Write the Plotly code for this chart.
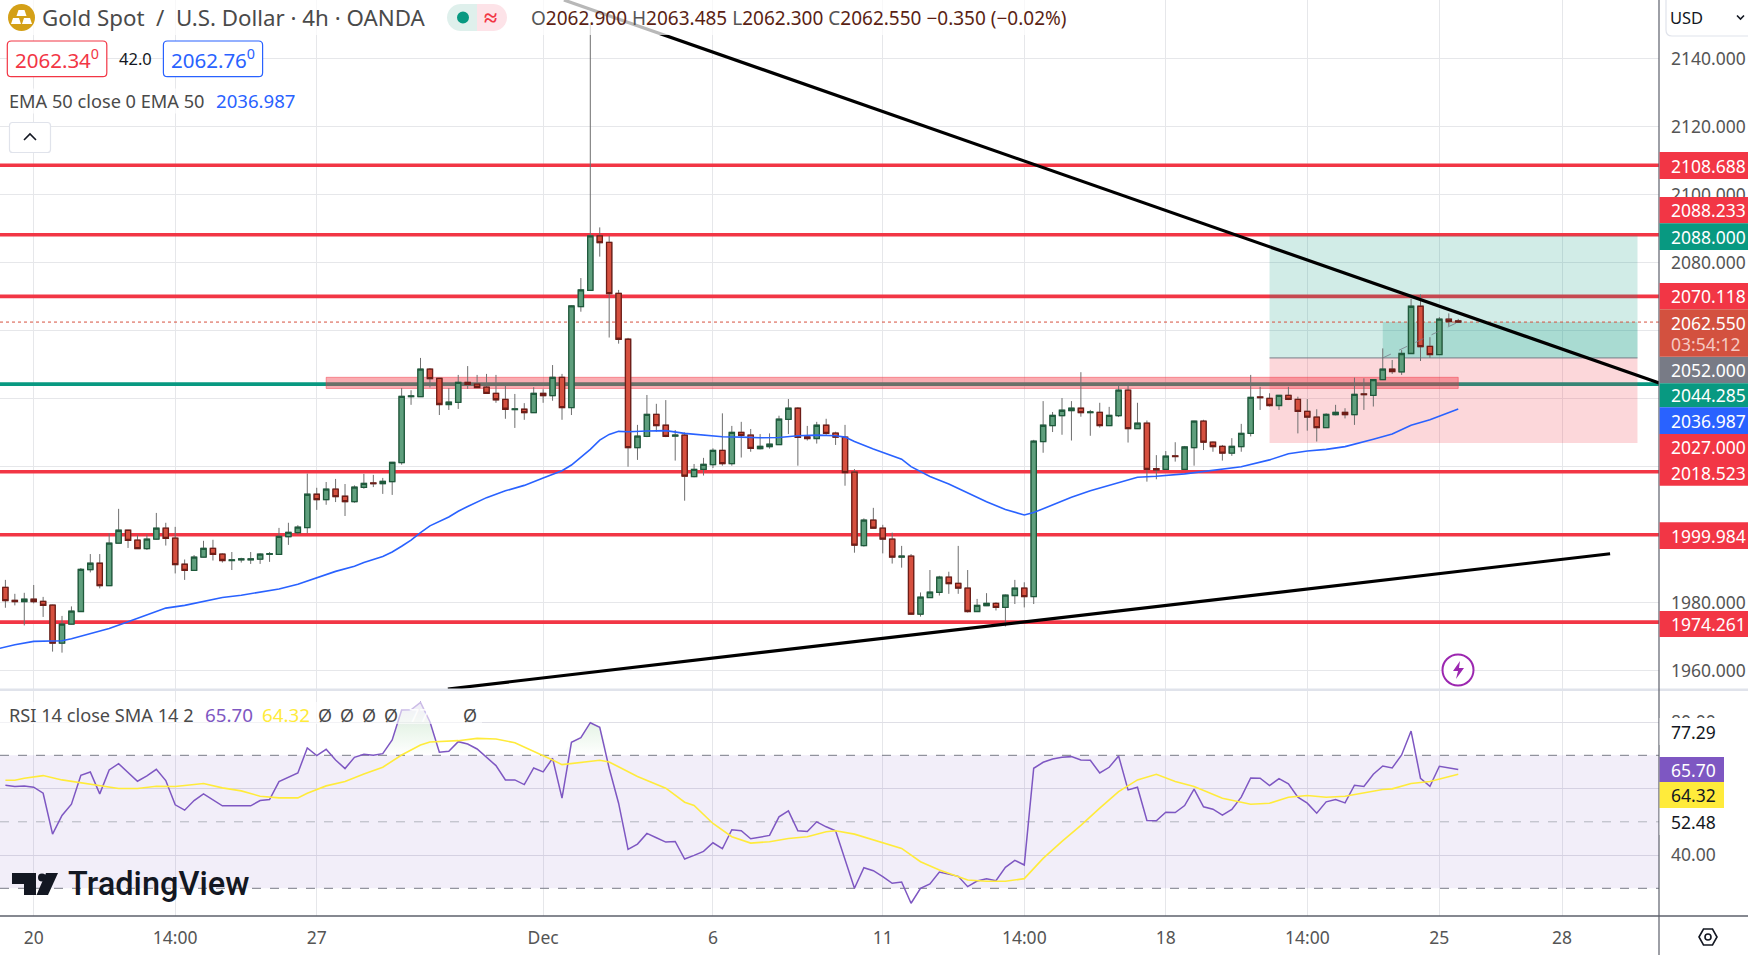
# Gold Spot / U.S. Dollar 4h chart with RSI pane
import math

import plotly.graph_objects as go

W = 1748
H = 955
AXIS_X = 1659
PRICE_BOTTOM = 689
RSI_TOP = 691
RSI_BOTTOM = 916
FONT = "Noto Sans"

opens = [
    1984.5,1980.7,1980.3,1981.0,1980.4,1979.3,1968.1,1973.7,1977.4,1989.7,
    1991.6,1985.0,1997.5,2001.3,1998.4,1995.9,1998.7,2001.9,1999.0,1991.3,
    1989.5,1993.4,1996.0,1994.3,1992.4,1992.6,1992.6,1992.8,1994.2,1994.2,
    1999.4,2000.6,2002.1,2011.9,2010.3,2013.4,2011.3,2009.7,2013.9,2015.2,
    2015.0,2015.6,2021.2,2040.6,2040.6,2048.7,2046.0,2038.3,2038.9,2044.8,
    2044.3,2043.4,2041.6,2039.8,2036.8,2036.9,2035.9,2041.6,2040.9,2046.3,
    2037.4,2067.1,2071.9,2087.9,2086.0,2071.0,2057.5,2025.6,2028.9,2035.4,
    2032.2,2029.0,2029.3,2017.1,2019.2,2020.6,2024.8,2020.9,2030.1,2029.3,
    2025.3,2025.9,2026.5,2033.9,2037.2,2028.8,2028.3,2032.2,2029.9,2028.7,
    2018.4,1996.8,2004.3,2001.9,1998.7,1993.4,1993.7,1976.6,1981.5,1983.0,
    1987.5,1985.7,1984.3,1977.4,1979.1,1979.8,1978.6,1982.1,1984.3,1981.8,
    2027.4,2032.1,2035.0,2036.5,2037.2,2035.9,2036.0,2032.1,2035.0,2042.5,
    2031.2,2032.8,2019.4,2019.2,2023.2,2019.2,2025.6,2033.4,2027.2,2026.0,
    2024.0,2025.9,2029.8,2040.5,2040.1,2038.0,2041.0,2039.8,2036.3,2034.6,
    2031.5,2035.3,2036.0,2035.3,2041.4,2041.0,2045.6,2048.7,2047.9,2053.3,
    2067.2,2055.4,2053.0,2063.4,2062.9,
]
closes = [
    1980.6,1980.3,1981.0,1980.3,1979.2,1968.1,1973.7,1977.5,1989.8,1991.6,
    1985.0,1997.5,2001.3,1998.3,1995.9,1998.7,2001.9,1998.9,1991.2,1989.5,
    1993.4,1996.0,1994.2,1992.4,1992.6,1992.9,1992.9,1994.3,1994.4,1999.5,
    2000.7,2002.2,2011.9,2010.3,2013.4,2011.2,2009.7,2014.0,2015.1,2015.0,
    2015.7,2021.3,2040.7,2040.8,2048.7,2045.9,2038.3,2039.0,2044.8,2044.2,
    2043.3,2041.6,2039.7,2036.9,2037.0,2035.9,2041.6,2040.9,2046.3,2037.4,
    2067.3,2072.0,2087.9,2085.9,2070.9,2057.5,2025.6,2029.0,2035.4,2032.1,
    2028.9,2029.3,2017.2,2019.2,2020.7,2024.8,2020.9,2030.1,2029.2,2025.4,
    2026.0,2026.6,2034.0,2037.2,2028.6,2028.3,2032.2,2029.8,2028.7,2018.3,
    1996.9,2004.3,2001.9,1998.7,1993.4,1993.7,1976.6,1981.6,1983.1,1987.5,
    1985.6,1984.3,1977.4,1979.2,1979.8,1978.6,1982.2,1984.3,1981.8,2027.5,
    2032.2,2035.1,2036.6,2037.2,2035.9,2036.1,2032.1,2035.1,2042.5,2031.2,
    2032.8,2019.2,2019.1,2023.1,2023.0,2025.8,2033.4,2027.2,2025.9,2024.0,
    2026.0,2029.8,2040.4,2040.3,2038.0,2041.0,2039.8,2036.3,2034.6,2031.5,
    2035.4,2036.0,2035.3,2041.3,2041.2,2045.6,2048.7,2048.0,2053.3,2067.2,
    2055.3,2053.0,2063.4,2062.7,2062.55,
]
highs = [
    1986.7,1982.6,1982.9,1985.2,1981.7,1979.4,1976.1,1978.9,1990.2,1994.3,
    1994.3,2000.4,2007.6,2001.4,2000.0,2000.1,2006.4,2003.5,2002.3,1992.7,
    1994.0,1998.2,1998.5,1994.5,1994.9,1993.2,1994.9,1994.5,1994.9,2002.0,
    2003.5,2002.8,2018.0,2013.8,2015.5,2016.4,2014.9,2014.5,2017.9,2017.6,
    2016.7,2021.4,2043.1,2042.5,2052.0,2049.0,2046.1,2043.1,2047.0,2049.6,
    2047.0,2047.3,2047.0,2044.1,2041.4,2038.7,2043.4,2042.8,2049.9,2047.3,
    2067.5,2075.5,2150.0,2090.4,2087.9,2072.0,2057.9,2032.3,2041.1,2038.5,
    2039.6,2030.8,2030.1,2020.8,2022.6,2025.4,2035.7,2032.0,2033.2,2031.1,
    2029.6,2029.8,2035.0,2039.9,2037.5,2032.0,2033.2,2034.1,2030.3,2032.3,
    2019.3,2004.8,2007.9,2002.9,2000.6,1996.7,1994.3,1983.0,1989.6,1987.9,
    1989.1,1996.7,1989.6,1981.1,1982.8,1980.1,1982.4,1986.7,1986.0,2027.9,
    2039.3,2036.1,2040.2,2039.3,2047.8,2036.7,2038.8,2037.6,2044.0,2044.7,
    2038.8,2033.6,2023.4,2024.6,2027.2,2026.1,2033.5,2033.8,2027.4,2026.4,
    2028.4,2032.6,2047.0,2043.5,2041.6,2041.1,2043.5,2040.6,2039.9,2036.9,
    2035.7,2038.2,2037.2,2046.2,2046.0,2045.7,2054.8,2051.4,2054.3,2069.4,
    2070.7,2058.1,2064.0,2065.1,2063.485,
]
lows = [
    1978.5,1979.2,1973.3,1979.8,1975.8,1965.6,1965.3,1973.6,1977.3,1988.9,
    1984.2,1984.9,1997.4,1996.1,1995.8,1995.5,1998.5,1996.8,1988.6,1986.7,
    1989.4,1993.3,1992.4,1991.8,1989.6,1991.8,1991.4,1991.4,1992.0,1994.1,
    1997.0,2000.0,2000.4,2007.3,2008.8,2009.6,2005.5,2009.4,2013.5,2014.0,
    2012.0,2011.7,2020.6,2038.2,2040.5,2043.3,2035.2,2036.7,2037.0,2042.9,
    2043.2,2041.5,2038.8,2034.1,2031.4,2033.8,2035.8,2038.8,2039.4,2033.8,
    2035.2,2065.6,2071.8,2081.8,2058.0,2056.2,2020.0,2022.0,2028.7,2030.3,
    2028.7,2021.8,2010.0,2016.9,2017.4,2019.6,2020.3,2020.3,2022.7,2024.4,
    2025.1,2025.3,2026.4,2029.6,2020.3,2027.7,2026.8,2029.4,2026.4,2014.4,
    1994.7,1996.5,2001.8,1994.5,1991.5,1990.3,1976.4,1975.9,1981.4,1982.1,
    1982.6,1982.6,1977.1,1977.3,1979.0,1977.7,1973.0,1979.6,1978.6,1979.6,
    2024.1,2030.2,2029.4,2027.7,2034.7,2029.1,2031.5,2032.0,2034.6,2027.1,
    2031.1,2015.6,2016.3,2019.1,2021.5,2019.1,2020.3,2024.9,2024.4,2021.8,
    2023.2,2024.4,2028.9,2036.7,2037.7,2036.7,2039.6,2029.8,2030.6,2027.4,
    2031.4,2035.1,2034.2,2032.3,2036.7,2037.7,2045.5,2047.3,2047.0,2053.2,
    2051.1,2052.0,2052.9,2061.4,2062.3,
]
bars = list(range(len(opens)))

ema_bars = [
    -1,1,3,4,6,7,9,10,11,13,15,17,19,21,23,25,27,29,31,33,35,37,38,40,41,42,43,44,45,47,
    48,49,51,53,55,57,59,60,61,62,63,64,65,66,68,70,72,74,76,78,80,82,84,86,88,89,90,92,
    94,95,96,98,100,102,104,106,108,109,111,113,115,117,119,120,122,124,125,131,134,136,
    138,140,142,145,147,149,151,154,
]
ema_vals = [
    1966.3,1967.6,1968.6,1968.7,1968.8,1969.4,1970.9,1971.5,1972.4,1974.4,1976.3,1978.4,
    1979.2,1980.4,1981.5,1982.2,1983.1,1984.0,1985.4,1987.3,1989.2,1990.7,1991.8,1993.6,
    1994.9,1996.6,1998.4,2000.6,2002.6,2005.2,2006.9,2008.3,2010.9,2012.9,2014.5,2016.7,
    2018.8,2020.5,2022.8,2025.1,2027.8,2029.5,2030.4,2030.3,2030.5,2030.6,2029.8,2029.2,
    2028.8,2028.7,2028.5,2028.6,2029.1,2029.3,2029.1,2028.7,2027.4,2025.2,2023.3,2022.2,
    2020.0,2017.1,2014.9,2012.2,2009.7,2007.4,2005.8,2006.5,2008.8,2011.0,2012.9,2014.5,
    2016.3,2016.9,2017.2,2017.7,2017.9,2020.0,2022.0,2023.8,2024.6,2025.1,2025.9,2028.1,
    2029.6,2032.2,2033.8,2036.987,
]

rsi_vals = [
    61.0,60.6,60.8,60.4,58.6,46.3,51.9,55.3,64.0,65.0,58.4,65.6,67.5,64.7,62.2,63.8,65.8,
    62.4,55.1,53.5,56.4,58.4,56.5,54.8,54.8,54.8,54.8,56.4,56.7,62.1,63.3,64.7,72.2,69.9,
    71.8,68.6,66.0,69.4,70.3,70.0,70.5,74.6,83.6,83.7,85.9,80.1,70.9,71.2,74.1,73.4,71.9,
    69.3,66.9,62.6,62.6,61.2,66.2,65.0,69.1,57.1,73.9,75.3,79.8,78.4,66.1,55.6,41.7,43.3,
    46.5,45.2,43.9,44.1,38.8,39.9,41.1,43.7,41.9,47.6,47.3,44.9,45.4,45.9,51.5,53.3,47.3,
    47.1,50.0,48.5,47.3,38.5,30.0,36.2,35.3,33.5,31.5,31.9,25.5,30.0,31.3,34.9,34.2,33.6,
    30.5,32.2,32.9,32.3,36.3,38.4,37.0,66.1,67.9,68.9,69.4,69.6,68.6,68.5,64.7,66.4,69.8,
    59.6,60.4,50.4,50.3,52.9,52.8,54.9,59.8,54.5,53.8,52.0,53.7,57.4,63.2,63.1,60.9,63.0,
    61.4,57.4,55.6,52.6,56.0,56.7,55.7,61.0,60.6,64.3,66.8,66.2,70.1,77.3,63.1,60.7,66.7,
    66.2,65.7,
]
sma_bars = [
    0,1,2,4,6,8,10,12,14,16,18,20,21,23,25,27,29,31,32,34,36,38,40,42,44,45,48,50,52,54,
    56,58,59,61,63,64,67,70,72,73,75,77,79,81,83,85,87,88,89,90,95,97,99,101,102,104,106,
    108,110,112,114,116,118,120,122,124,126,129,132,134,136,138,140,142,144,146,147,149,
    151,154,
]
sma_vals = [
    62.5,62.5,63.1,63.9,62.6,61.7,60.7,60.0,60.0,60.7,60.6,61.3,61.5,60.2,59.3,57.7,57.2,
    57.2,58.6,60.8,62.1,64.4,66.4,70.1,73.1,74.0,74.4,75.1,74.9,73.8,71.3,68.6,67.2,67.8,
    68.5,68.0,63.6,60.1,55.9,54.9,49.5,45.5,43.6,44.0,45.0,45.5,47.0,47.3,46.9,46.3,42.0,
    38.0,35.5,33.5,32.5,32.1,32.1,32.9,39.0,44.1,48.9,54.1,59.1,62.6,64.3,62.1,60.6,57.1,
    55.3,55.6,57.4,57.9,57.4,57.7,58.8,59.7,59.9,61.5,62.1,64.32,
]

red_levels = [2108.688, 2088.233, 2070.118, 2018.523, 1999.984, 1974.261]
teal_level = 2044.285
last_price = 2062.55
zone_low = 2043.0
zone_high = 2046.3
zone_bars = [34, 154]
target = 2088.0
entry = 2052.0
stop = 2027.0
position_bars = [134, 173]
progress_bars = [146, 154]

trend_down_bars = [59.2, 175.3]
trend_down_prices = [2157.3, 2044.6]
trend_up_bars = [46.9, 170.1]
trend_up_prices = [1954.6, 1994.4]

date_bars = [3, 18, 33, 57, 75, 93, 108, 123, 138, 152, 165]
date_labels = ["20", "14:00", "27", "Dec", "6", "11", "14:00", "18", "14:00", "25", "28"]
price_ticks = [1960, 1980, 2000, 2020, 2040, 2060, 2080, 2100, 2120, 2140]
price_tick_labels = ["1960.000", "1980.000", "", "", "", "", "2080.000", "2100.000", "2120.000", "2140.000"]
rsi_ticks = [40, 60, 80]
rsi_tick_labels = ["40.00", "", "80.00"]

x_range = [(0 - 5.4) / 9.434, (AXIS_X - 5.4) / 9.434]


def fx(px):
    return px / W


def fy(py):
    return 1 - py / H


def label(text, x, y, size=17.5, color="#4a4a4a", anchor="left", family=FONT, bg=None):
    return dict(
        text=text, x=fx(x), y=fy(y), xref="paper", yref="paper", showarrow=False,
        xanchor=anchor, yanchor="middle", font=dict(size=size, color=color, family=family),
        bgcolor=bg, borderpad=0,
    )


def px_rect(x0, y0, x1, y1, fill, line=None, width=1, layer="above"):
    return dict(
        type="rect", xref="paper", yref="paper", x0=fx(x0), x1=fx(x1), y0=fy(y0), y1=fy(y1),
        fillcolor=fill, line=dict(color=line, width=width if line else 0), layer=layer,
    )


def px_path(points, fill=None, line=None, width=1, close=True):
    d = "M " + " L ".join(f"{fx(a):.5f},{fy(b):.5f}" for a, b in points)
    if close:
        d += " Z"
    return dict(
        type="path", xref="paper", yref="paper", path=d, fillcolor=fill,
        line=dict(color=line, width=width if line else 0), layer="above",
    )


def round_box(x0, y0, x1, y1, r, fill, line):
    a, b, c, e = fx(x0), fy(y0), fx(x1), fy(y1)
    rx, ry = r / W, r / H
    d = (
        f"M {a+rx:.5f},{b:.5f} L {c-rx:.5f},{b:.5f} Q {c:.5f},{b:.5f} {c:.5f},{b-ry:.5f} "
        f"L {c:.5f},{e+ry:.5f} Q {c:.5f},{e:.5f} {c-rx:.5f},{e:.5f} L {a+rx:.5f},{e:.5f} "
        f"Q {a:.5f},{e:.5f} {a:.5f},{e+ry:.5f} L {a:.5f},{b-ry:.5f} Q {a:.5f},{b:.5f} {a+rx:.5f},{b:.5f} Z"
    )
    return dict(type="path", xref="paper", yref="paper", path=d, fillcolor=fill,
                line=dict(color=line, width=1.2), layer="above")


def half_pill(cx, edge, cy, r, side, fill):
    # half a capsule: straight edge at x=edge, round end centred on cx
    pts = [(edge, cy - r)]
    for k in range(13):
        a = math.radians(-90 + 15 * k)
        pts.append((cx + side * r * math.cos(a), cy + r * math.sin(a)))
    pts.append((edge, cy + r))
    return px_path(pts, fill=fill)


def price_line(level, color, width, dash="solid"):
    # "between" only works with plain axis refs, not "x domain"
    return dict(type="line", xref="x", yref="y", x0=x_range[0], x1=x_range[1], y0=level, y1=level,
                line=dict(color=color, width=width, dash=dash), layer="between")


fig = go.Figure()

# everything in the price pane
fig.add_trace(go.Scatter(x=ema_bars, y=ema_vals, mode="lines", line=dict(color="#2962ff", width=1.6),
                         hoverinfo="skip", xaxis="x", yaxis="y"))
# wicks are grey while body outlines are dark, so two candlestick traces
fig.add_trace(go.Candlestick(
    x=bars, open=opens, high=highs, low=lows, close=closes, xaxis="x", yaxis="y", hoverinfo="skip",
    increasing=dict(line=dict(color="#6f6f6f", width=1), fillcolor="#5f9f7d"),
    decreasing=dict(line=dict(color="#6f6f6f", width=1), fillcolor="#d6503f"),
))
fig.add_trace(go.Candlestick(
    x=bars, open=opens, close=closes, xaxis="x", yaxis="y", hoverinfo="skip",
    high=[max(a, b) for a, b in zip(opens, closes)],
    low=[min(a, b) for a, b in zip(opens, closes)],
    increasing=dict(line=dict(color="#1f5a3c", width=1.3), fillcolor="#5f9f7d"),
    decreasing=dict(line=dict(color="#6e1d17", width=1.3), fillcolor="#d6503f"),
))
fig.add_trace(go.Scatter(x=progress_bars, y=[entry, last_price], mode="lines", hoverinfo="skip",
                         line=dict(color="rgba(120,123,134,0.8)", width=1, dash="dash"), xaxis="x", yaxis="y"))
for xs, ys in [(trend_down_bars, trend_down_prices), (trend_up_bars, trend_up_prices)]:
    fig.add_trace(go.Scatter(x=xs, y=ys, mode="lines", hoverinfo="skip", xaxis="x", yaxis="y",
                             line=dict(color="#000000", width=3.2)))

# RSI pane: overbought fills, then the two lines
for first, last in [(37, 52), (59, 66)]:
    xs = bars[first:last + 1]
    ys = [max(v, 70) for v in rsi_vals[first:last + 1]]
    fig.add_trace(go.Scatter(
        x=xs + xs[::-1], y=ys + [70] * len(xs), mode="lines", fill="toself", hoverinfo="skip",
        line=dict(width=0), xaxis="x2", yaxis="y2",
        fillgradient=dict(type="vertical", start=70, stop=86, colorscale=[
            [0, "rgba(76,175,80,0)"], [0.5, "rgba(76,175,80,0.12)"], [1, "rgba(126,87,194,0.28)"]]),
    ))
fig.add_trace(go.Scatter(x=bars, y=rsi_vals, mode="lines", line=dict(color="#7e57c2", width=1.5),
                         hoverinfo="skip", xaxis="x2", yaxis="y2"))
fig.add_trace(go.Scatter(x=sma_bars, y=sma_vals, mode="lines", line=dict(color="#ffeb3b", width=1.6),
                         hoverinfo="skip", xaxis="x2", yaxis="y2"))

shapes = []
# level lines sit under the long position box, candles on top of both
for lvl in red_levels:
    shapes.append(price_line(lvl, "#f23645", 3.6))
shapes.append(price_line(teal_level, "#089981", 3.6))
shapes.append(dict(type="rect", xref="x", yref="y", x0=zone_bars[0], x1=zone_bars[1], y0=zone_low, y1=zone_high,
                   fillcolor="rgba(242,54,69,0.42)", line=dict(color="rgba(242,54,69,0.45)", width=1), layer="between"))
shapes.append(dict(type="rect", xref="x", yref="y", x0=position_bars[0], x1=position_bars[1], y0=entry, y1=target,
                   fillcolor="rgba(8,153,129,0.19)", line=dict(width=0), layer="between"))
shapes.append(dict(type="rect", xref="x", yref="y", x0=position_bars[0], x1=position_bars[1], y0=stop, y1=entry,
                   fillcolor="rgba(242,54,69,0.2)", line=dict(width=0), layer="between"))
shapes.append(dict(type="rect", xref="x", yref="y", x0=progress_bars[0], x1=position_bars[1], y0=entry, y1=last_price,
                   fillcolor="rgba(8,153,129,0.2)", line=dict(width=0), layer="between"))
shapes.append(dict(type="line", xref="x", yref="y", x0=position_bars[0], x1=position_bars[1], y0=entry, y1=entry,
                   line=dict(color="#787b86", width=1), layer="between"))
shapes.append(price_line(last_price, "#d6503f", 1, "dot"))

# RSI band and bounds
shapes.append(dict(type="rect", xref="x2", yref="y2", x0=x_range[0], x1=x_range[1], y0=30, y1=70,
                   fillcolor="rgba(126,87,194,0.1)", line=dict(width=0), layer="between"))
for lvl, col in [(70, "#787b86"), (50, "#b2b5be"), (30, "#787b86")]:
    shapes.append(dict(type="line", xref="x2", yref="y2", x0=x_range[0], x1=x_range[1], y0=lvl, y1=lvl,
                       line=dict(color=col, width=1, dash="dash"), layer="between"))

# header backdrops
shapes.append(px_rect(0, 0, 1082, 35, "rgba(255,255,255,0.72)"))
shapes.append(px_rect(0, 702, 482, 724, "rgba(255,255,255,0.6)"))

# pane frame
shapes.append(px_rect(0, 688.5, W, 691, "#e0e3eb"))
shapes.append(dict(type="line", xref="paper", yref="paper", x0=0, x1=1, y0=fy(RSI_BOTTOM), y1=fy(RSI_BOTTOM),
                   line=dict(color="#5d606b", width=1.4), layer="above"))
shapes.append(dict(type="line", xref="paper", yref="paper", x0=fx(AXIS_X), x1=fx(AXIS_X), y0=0, y1=1,
                   line=dict(color="#5d606b", width=1.2), layer="above"))

annotations = []

# right axis tags: text, top, bottom, fill, text colour, right edge
tags = [
    ("2108.688", 152, 179, "#f23645", "#ffffff", W),
    ("2088.233", 197, 223.3, "#f23645", "#ffffff", W),
    ("2088.000", 223.3, 250, "#089981", "#ffffff", W),
    ("2070.118", 283, 309.3, "#f23645", "#ffffff", W),
    ("2052.000", 356.7, 383.3, "#787b86", "#ffffff", W),
    ("2044.285", 383.3, 407.3, "#089981", "#ffffff", W),
    ("2036.987", 407.3, 434, "#2962ff", "#ffffff", W),
    ("2027.000", 434, 460, "#f23645", "#ffffff", W),
    ("2018.523", 460, 485.7, "#f23645", "#ffffff", W),
    ("1999.984", 522.3, 549, "#f23645", "#ffffff", W),
    ("1974.261", 611, 637, "#f23645", "#ffffff", W),
    ("77.29", 718, 745, "#ffffff", "#131722", 1724),
    ("65.70", 757, 782, "#7e57c2", "#ffffff", 1724),
    ("64.32", 782, 808, "#ffeb3b", "#131722", 1724),
    ("52.48", 808, 835, "#ffffff", "#131722", 1724),
]
for text, top, bottom, fill, ink, right in tags:
    shapes.append(px_rect(AXIS_X + 0.6, top, right, bottom, fill))
    annotations.append(label(text, 1670, (top + bottom) / 2, color=ink))
shapes.append(px_rect(AXIS_X + 0.6, 309.3, W, 356.7, "#d3513f"))
annotations.append(label("2062.550", 1670, 322.7, color="#ffffff"))
annotations.append(label("03:54:12", 1670, 344, color="#f6c9c2"))

# symbol row
shapes.append(dict(type="circle", xref="paper", yref="paper", x0=fx(8), x1=fx(35), y0=fy(31), y1=fy(4),
                   fillcolor="#d4a017", line=dict(width=0), layer="above"))
for cx, cy in [(21.5, 13), (16, 21), (27, 21)]:
    shapes.append(px_path([(cx - 3, cy - 3), (cx + 3, cy - 3), (cx + 5, cy + 3), (cx - 5, cy + 3)], fill="#ffffff"))
annotations.append(label("Gold Spot  /  U.S. Dollar · 4h · OANDA", 41, 18, size=22.3))
shapes.append(half_pill(460.5, 477, 17.5, 13.5, -1, "#dff0ec"))
shapes.append(half_pill(493.5, 477, 17.5, 13.5, 1, "#fde3e8"))
shapes.append(dict(type="circle", xref="paper", yref="paper", x0=fx(457), x1=fx(469), y0=fy(23.5), y1=fy(11.5),
                   fillcolor="#089981", line=dict(width=0), layer="above"))
annotations.append(label("<b>≈</b>", 490, 16.5, size=24, color="#f23645", anchor="center"))
ohlc_dark = "#5b1f14"
ohlc = "".join(
    f'<span style="color:#555555">{k}</span><span style="color:{ohlc_dark}">{v}</span> '
    for k, v in [("O", "2062.900"), ("H", "2063.485"), ("L", "2062.300"), ("C", "2062.550")]
) + f'<span style="color:{ohlc_dark}">−0.350 (−0.02%)</span>'
annotations.append(label(ohlc, 530, 17.5, size=19))

# bid / ask row
shapes.append(round_box(7.3, 41, 106.8, 76.7, 4, "#ffffff", "#f23645"))
shapes.append(round_box(163.4, 41, 262.6, 76.7, 4, "#ffffff", "#2962ff"))
annotations.append(label("2062.34<sup>0</sup>", 57, 59, size=20.5, color="#f23645", anchor="center"))
annotations.append(label("42.0", 135.5, 59, size=16.5, color="#131722", anchor="center"))
annotations.append(label("2062.76<sup>0</sup>", 213, 59, size=20.5, color="#2962ff", anchor="center"))

# EMA legend and collapse button
annotations.append(label("EMA 50 close 0 EMA 50", 7.5, 101, size=18.2, bg="rgba(255,255,255,0.7)"))
annotations.append(label("2036.987", 214.5, 101, size=18.6, color="#2962ff", bg="rgba(255,255,255,0.7)"))
shapes.append(round_box(9.5, 122.5, 50.5, 152.5, 3, "#ffffff", "#e0e3eb"))
shapes.append(px_path([(24, 140), (30, 134), (36, 140)], line="#131722", width=1.6, close=False))

# RSI legend
annotations.append(label("RSI 14 close SMA 14 2", 7.5, 715, size=18.2))
annotations.append(label("65.70", 204, 715, size=18.8, color="#7e57c2"))
annotations.append(label("64.32", 261, 715, size=18.8, color="#ffeb3b"))
for x in [325, 347, 369, 391, 470]:
    annotations.append(label("Ø", x, 715, size=18, color="#4a4a4a", anchor="center"))
annotations.append(label("77.29", 408, 715, size=18, color="rgba(255,255,255,0.9)"))

# watermark
annotations.append(label("TradingView", 67, 884, size=32.5, color="#131722", family="Roboto Medium, Roboto"))
shapes.append(px_path([(12, 873), (36, 873), (36, 895), (24, 895), (24, 884), (12, 884)], fill="#131722"))
shapes.append(px_path([(46, 873), (58, 873), (48, 895), (36.5, 895)], fill="#131722"))
shapes.append(dict(type="circle", xref="paper", yref="paper", x0=fx(38), x1=fx(46), y0=fy(881.5), y1=fy(873.5),
                   fillcolor="#131722", line=dict(width=0), layer="above"))

# replay bolt
shapes.append(dict(type="circle", xref="paper", yref="paper", x0=fx(1442.5), x1=fx(1473.5), y0=fy(685.5), y1=fy(654.5),
                   fillcolor="#ffffff", line=dict(color="#9c27b0", width=2), layer="above"))
shapes.append(px_path([(1460, 661), (1453, 671), (1458, 671), (1456, 679), (1464, 668), (1459, 668)], fill="#9c27b0"))

# settings hexagon
shapes.append(px_path([(1699, 937), (1703.5, 929), (1712.5, 929), (1717, 937), (1712.5, 945), (1703.5, 945)],
                      line="#131722", width=1.6))
shapes.append(dict(type="circle", xref="paper", yref="paper", x0=fx(1705), x1=fx(1711), y0=fy(940), y1=fy(934),
                   line=dict(color="#131722", width=1.6), layer="above"))

# currency selector
shapes.append(round_box(1666, -6, 1752, 36, 6, "#ffffff", "#e0e3eb"))
annotations.append(label("USD", 1669, 17.5, size=16.5, color="#131722"))
shapes.append(px_path([(1737, 15.5), (1740.5, 19), (1744, 15.5)], line="#131722", width=1.6, close=False))

grid = "#e6e7ea"
fig.update_layout(
    width=W, height=H, margin=dict(l=0, r=0, t=0, b=0), showlegend=False, boxgap=0.2,
    paper_bgcolor="#ffffff", plot_bgcolor="#ffffff", font=dict(family=FONT, color="#555555"),
    shapes=shapes, annotations=annotations,
    xaxis=dict(domain=[0, fx(AXIS_X)], range=x_range, anchor="y", rangeslider=dict(visible=False),
               tickmode="array", tickvals=date_bars, showticklabels=False, ticks="",
               showgrid=True, gridcolor=grid, gridwidth=1, zeroline=False),
    yaxis=dict(domain=[fy(PRICE_BOTTOM), 1], range=[1954.6, 2157.3], anchor="x", side="right",
               tickmode="array", tickvals=price_ticks, ticktext=price_tick_labels,
               tickfont=dict(size=17.5, color="#555555"), ticks="", ticklabelstandoff=11,
               showgrid=True, gridcolor=grid, gridwidth=1, zeroline=False),
    xaxis2=dict(domain=[0, fx(AXIS_X)], range=x_range, anchor="y2", tickmode="array",
                tickvals=date_bars, ticktext=date_labels, tickfont=dict(size=17.5, color="#555555"),
                ticks="", ticklabelstandoff=9, showgrid=True, gridcolor=grid, gridwidth=1, zeroline=False),
    yaxis2=dict(domain=[fy(RSI_BOTTOM), fy(RSI_TOP)], range=[21.67, 89.34], anchor="x2", side="right",
                tickmode="array", tickvals=rsi_ticks, ticktext=rsi_tick_labels,
                tickfont=dict(size=17.5, color="#555555"), ticks="", ticklabelstandoff=11,
                showgrid=True, gridcolor="#dfdfe6", gridwidth=1, zeroline=False),
)

fig.write_html("out.html", config={"displayModeBar": False},
               post_script="document.body.style.margin='0';document.body.style.overflow='hidden';")
